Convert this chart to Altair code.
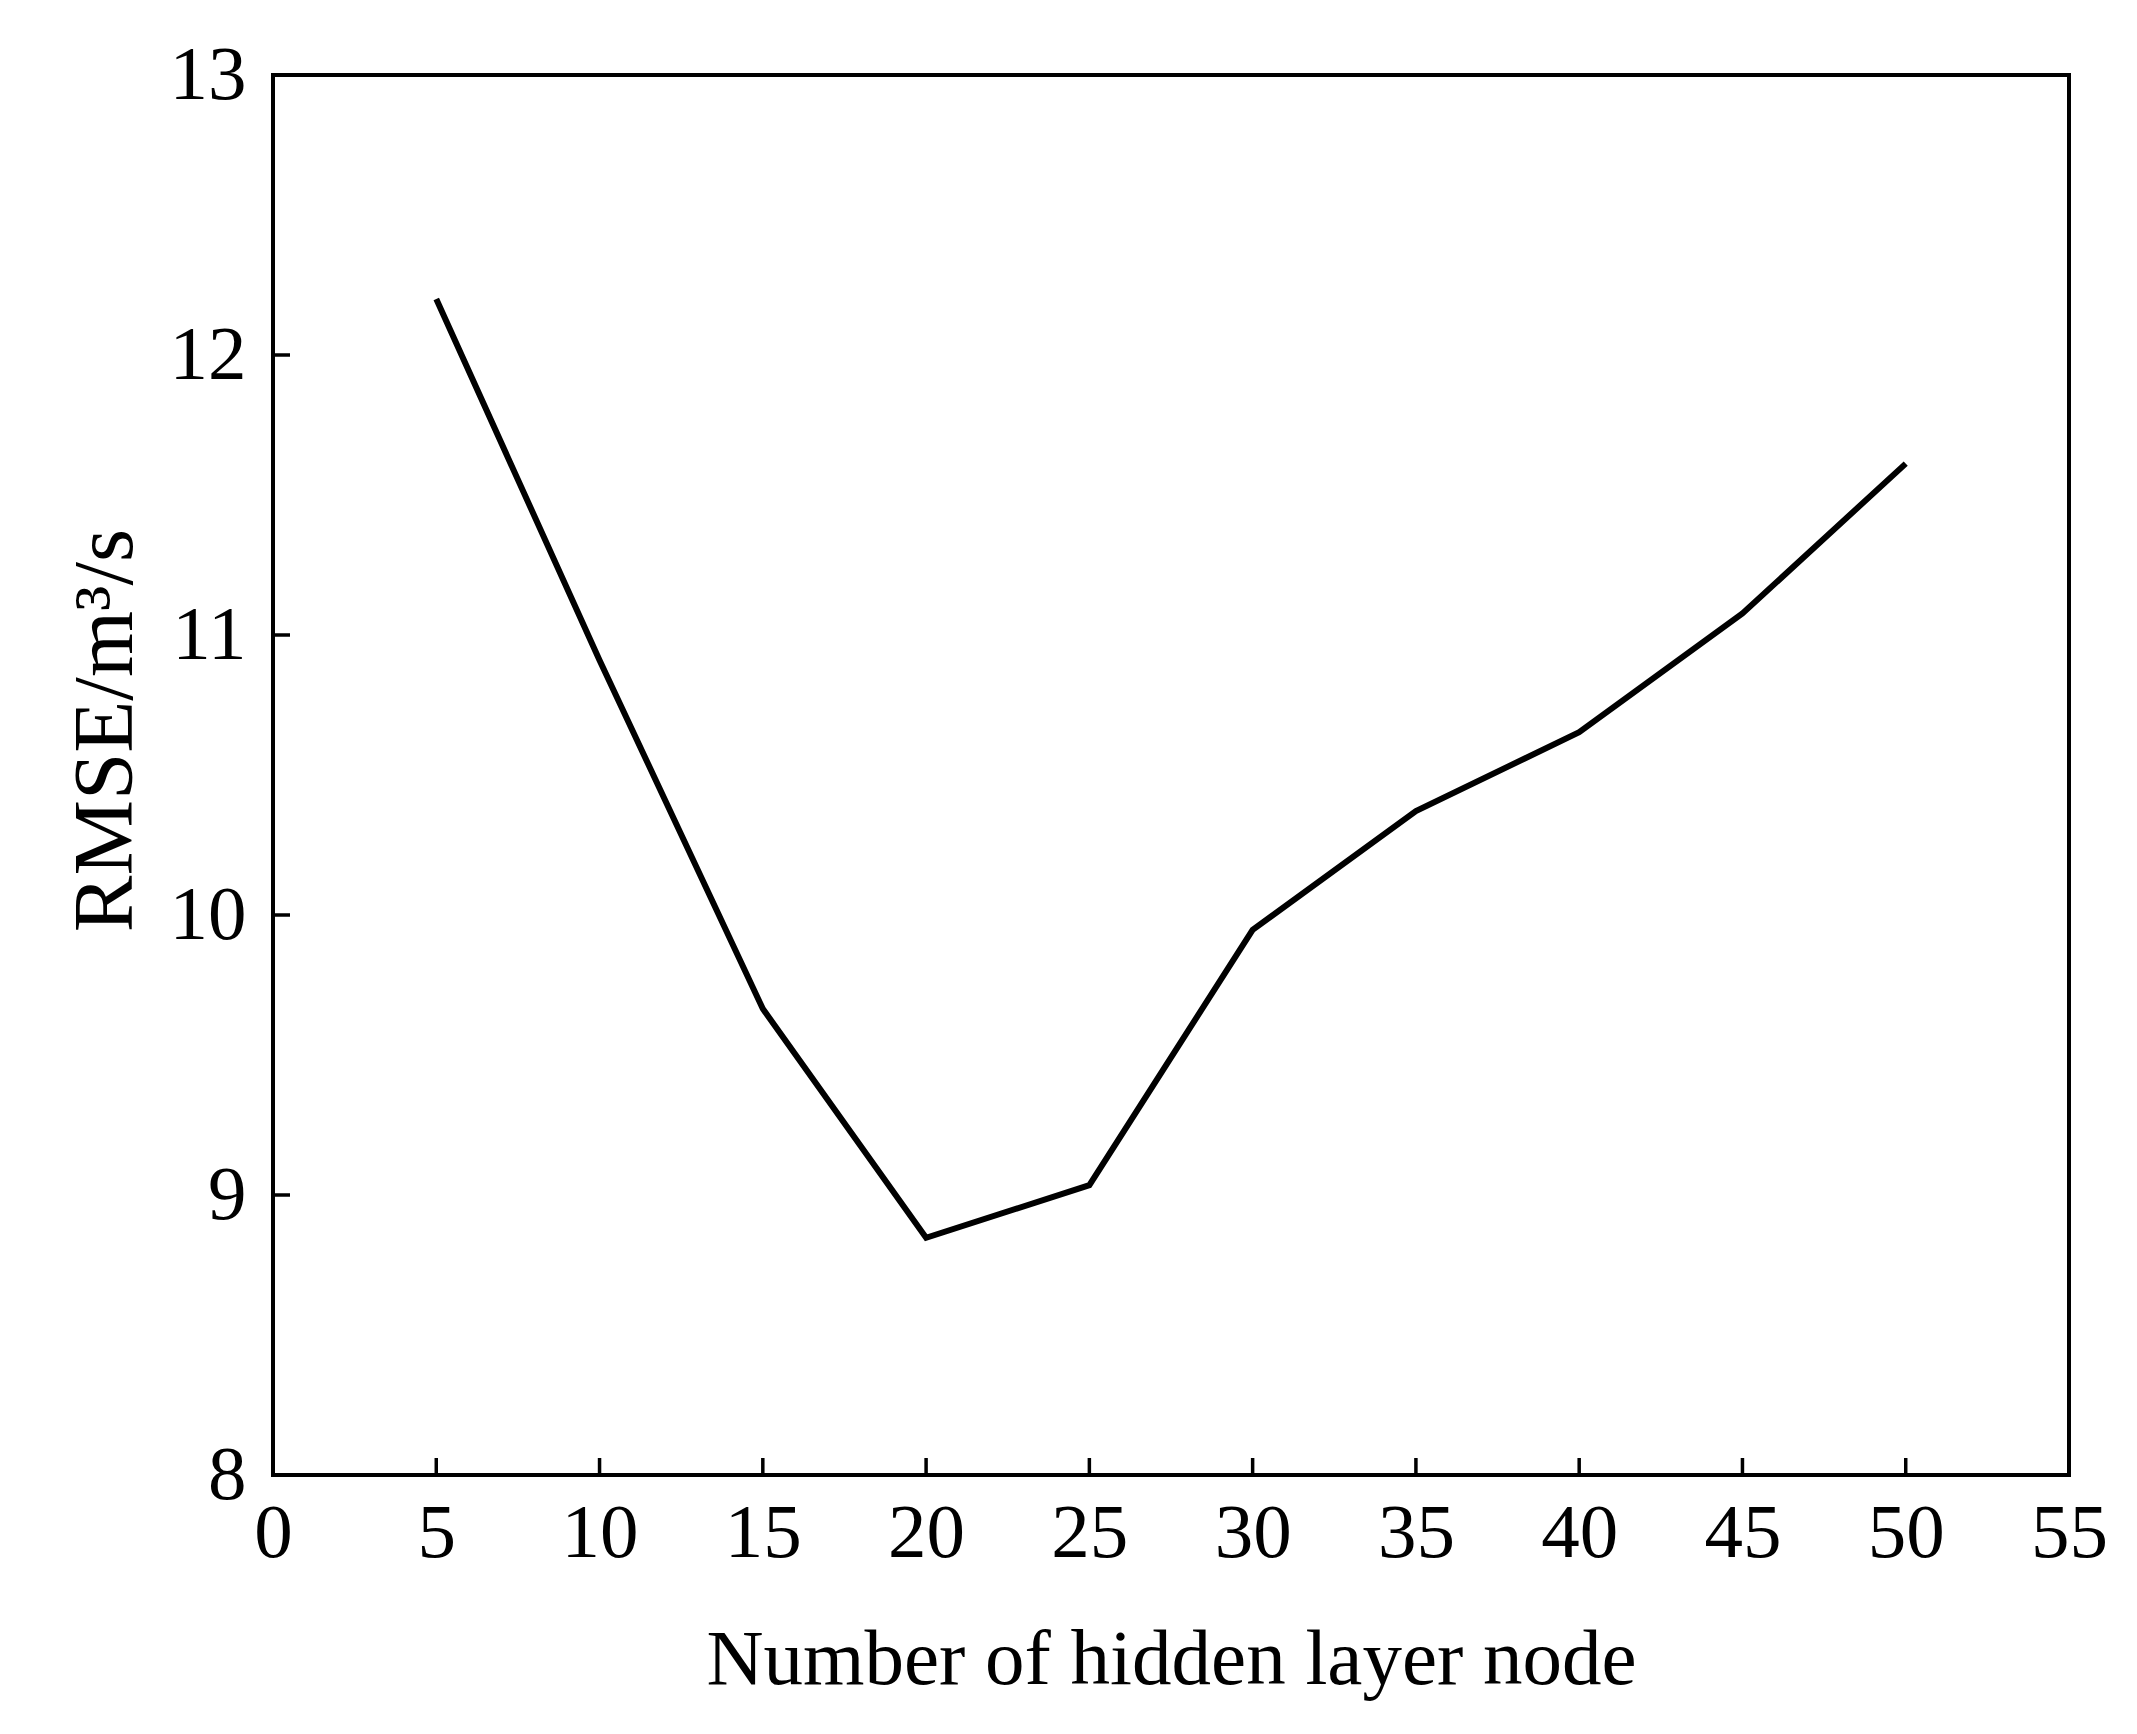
import altair as alt
import pandas as pd

# Data
nodes = [5, 10, 15, 20, 25, 30, 35, 40, 45, 50]
rmse = [12.20, 10.91, 9.665, 8.847, 9.035, 9.947, 10.371, 10.653, 11.077, 11.612]
x_ticks = [0, 5, 10, 15, 20, 25, 30, 35, 40, 45, 50, 55]
y_ticks = [8, 9, 10, 11, 12, 13]

W, H = 1796, 1400
FONT = "Liberation Serif"

df = pd.DataFrame({"x": nodes, "y": rmse})
xt = pd.DataFrame({"x": x_ticks[1:-1]})
yt = pd.DataFrame({"y": y_ticks[1:-1]})

xscale = alt.Scale(domain=[0, 55], nice=False, zero=False)
yscale = alt.Scale(domain=[8, 13], nice=False, zero=False)

xaxis = alt.Axis(
    title="Number of hidden layer node",
    values=x_ticks, format="d", ticks=False, tickSize=0, domain=False, grid=False,
    labelFont=FONT, labelFontSize=77, labelColor="black", labelPadding=81,
    labelBaseline="alphabetic", labelFlush=False, labelOverlap=False,
    titleFont=FONT, titleFontSize=79, titleFontWeight="normal", titleColor="black",
    titleX=W / 2, titleY=208, titleBaseline="alphabetic", titleAlign="center",
)
yaxis = alt.Axis(
    title="RMSE/m³/s",
    values=y_ticks, format="d", ticks=False, tickSize=0, domain=False, grid=False,
    labelFont=FONT, labelFontSize=77, labelColor="black", labelPadding=27,
    labelBaseline="middle", labelFlush=False, labelOverlap=False,
    titleFont=FONT, titleFontSize=85, titleFontWeight="normal", titleColor="black",
    titleAngle=-90, titleX=-142, titleY=655, titleBaseline="alphabetic", titleAlign="center",
)

line = alt.Chart(df).mark_line(color="black", strokeWidth=6).encode(
    x=alt.X("x:Q", scale=xscale, axis=xaxis),
    y=alt.Y("y:Q", scale=yscale, axis=yaxis),
)

xtick = alt.Chart(xt).mark_rule(color="black", strokeWidth=3.5).encode(
    x=alt.X("x:Q", scale=xscale, axis=xaxis),
    y=alt.value(H),
    y2=alt.value(H - 17),
)

ytick = alt.Chart(yt).mark_rule(color="black", strokeWidth=3.5).encode(
    y=alt.Y("y:Q", scale=yscale, axis=yaxis),
    x=alt.value(0),
    x2=alt.value(17),
)

chart = alt.layer(line, xtick, ytick).properties(
    width=W, height=H,
    autosize=alt.AutoSizeParams(type="none"),
    padding={"left": 265, "top": 67, "right": 50, "bottom": 240},
    background="white",
).configure_view(stroke="black", strokeWidth=4)

chart.save("out.html", embed_options={"renderer": "svg", "actions": False})
